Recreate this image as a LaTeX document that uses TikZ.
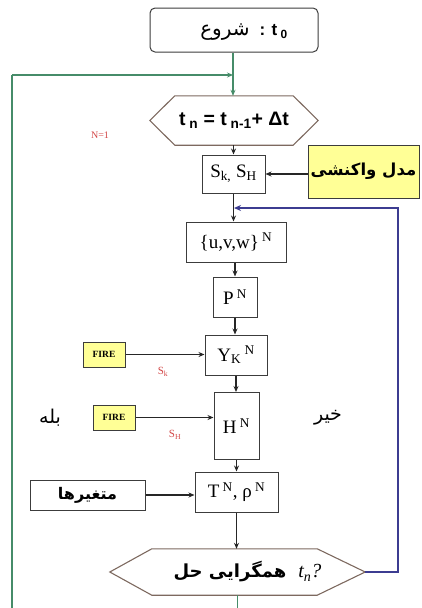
\documentclass[tikz,border=0pt]{standalone}
\usepackage{fontspec}
\setmainfont{Liberation Serif}
\newfontfamily\arabicfont[Script=Arabic]{DejaVu Sans}
\newfontfamily\sansf{Liberation Sans}
\TeXXeTstate=1
\usetikzlibrary{calc,arrows.meta}
\definecolor{greencol}{RGB}{70,140,105}
\definecolor{bluecol}{RGB}{60,60,145}
\definecolor{yfill}{RGB}{255,255,150}
\definecolor{hexcol}{RGB}{125,105,95}
\definecolor{redlab}{RGB}{210,70,70}
\definecolor{boxcol}{RGB}{60,60,60}
\begin{document}
\begin{tikzpicture}[x=1pt,y=-1pt,
  box/.style={draw=boxcol, line width=1pt, fill=white, inner sep=0pt, font=\fontsize{19}{21}\selectfont},
  ybox/.style={draw=boxcol, line width=1pt, fill=yfill, inner sep=0pt},
  hexnode/.style={inner sep=0pt},
  hexline/.style={draw=hexcol, line width=1.1pt},
  arr/.style={-{Stealth[length=6pt,width=5pt]}, line width=1.2pt, draw=black!85},
  garr/.style={-{Stealth[length=6pt,width=5pt]}, line width=1.6pt, draw=greencol},
  gline/.style={line width=1.6pt, draw=greencol},
  barr/.style={-{Stealth[length=7pt,width=6pt]}, line width=1.6pt, draw=bluecol},
  redtxt/.style={text=redlab, font=\fontsize{11}{12}\selectfont, inner sep=0pt},
  fatxt/.style={font=\arabicfont\fontsize{19}{21}\selectfont, inner sep=0pt}
]
\useasboundingbox (0,0) rectangle (422,608);

% start
\node[draw=boxcol, line width=1pt, rounded corners=5pt, minimum width=168pt, minimum height=44pt, inner sep=0pt, text depth=0pt] (start) at (234,30)
  {\hspace{20pt}{\arabicfont\fontsize{20}{22}\selectfont\beginR شروع\endR}\hspace{10pt}{\sansf\bfseries\fontsize{17}{18}\selectfont : t\textsubscript{ 0}}};

% hexagon 1
\node[hexnode, minimum width=168pt, minimum height=49pt] (hexa) at (234,120.5)
  {\sansf\bfseries\fontsize{19.5}{21}\selectfont t\textsubscript{ n} = t\textsubscript{ n-1}+ Δt};
\draw[hexline] (hexa.west) -- ([xshift=25pt]hexa.north west) -- ([xshift=-25pt]hexa.north east) -- (hexa.east)
  -- ([xshift=-25pt]hexa.south east) -- ([xshift=25pt]hexa.south west) -- cycle;

\node[redtxt, font=\fontsize{10}{11}\selectfont] (n1) at (100,135) {N=1};

% boxes
\node[box, minimum width=63pt, minimum height=38pt] (sk) at (233.5,174) {S\textsubscript{k,} S\textsubscript{H}};
\node[ybox, minimum width=111pt, minimum height=53pt] (model) at (363.5,171.5)
  {\arabicfont\bfseries\fontsize{16.5}{18}\selectfont\beginR مدل واکنشی\endR};
\node[box, minimum width=100pt, minimum height=40pt] (uvw) at (236,242) {\{u,v,w\}\textsuperscript{ N}};
\node[box, minimum width=44pt, minimum height=40pt] (p) at (235,297) {P\textsuperscript{ N}};
\node[box, minimum width=62pt, minimum height=40pt] (yk) at (236,355) {Y\textsubscript{K}\textsuperscript{ N}};
\node[box, minimum width=45pt, minimum height=67pt] (h) at (236.5,426) {H\textsuperscript{ N}};
\node[box, minimum width=83pt, minimum height=40pt] (t) at (236.5,492) {T\textsuperscript{ N}, ρ\textsuperscript{ N}};
\node[box, minimum width=115pt, minimum height=30pt] (var) at (87.5,495)
  {\arabicfont\bfseries\fontsize{16}{18}\selectfont\beginR متغیرها\endR};

\node[ybox, minimum width=42pt, minimum height=25pt, font=\bfseries\fontsize{9.5}{10}\selectfont] (f1) at (104,354.5) {FIRE};
\node[ybox, minimum width=42pt, minimum height=25pt, font=\bfseries\fontsize{9.5}{10}\selectfont] (f2) at (114,417.5) {FIRE};
\node[redtxt] (lsk) at (163,372) {S\textsubscript{k}};
\node[redtxt] (lsh) at (175,435) {S\textsubscript{H}};

\node[fatxt] (bale) at (50,418) {\beginR بله\endR};
\node[fatxt] (kheir) at (328,418) {\beginR خیر\endR};

% hexagon 2
\node[hexnode, minimum width=255pt, minimum height=46pt] (hexb) at (237.5,572)
  {\hspace{20pt}{\arabicfont\bfseries\fontsize{18}{20}\selectfont\beginR همگرایی حل\endR}\hspace{12pt}{\fontsize{20}{22}\selectfont\itshape t\textsubscript{n}?}};
\draw[hexline] (hexb.west) -- ([xshift=42pt]hexb.north west) -- ([xshift=-48pt]hexb.north east) -- (hexb.east)
  -- ([xshift=-48pt]hexb.south east) -- ([xshift=42pt]hexb.south west) -- cycle;

% coordinates
\coordinate (gtop) at (233,75);
\coordinate (gleft) at (12,75);
\coordinate (gbot) at (12,608);
\coordinate (gend) at (237.5,608);
\coordinate (bin) at (234,208);
\coordinate (bright) at (398,208);
\coordinate (bcorner) at (398,572);

% green connectors
\draw[gline] (start.south -| gtop) -- (gtop);
\draw[garr] (gtop) -- (gtop |- hexa.north);
\draw[gline] (gbot) -- (gleft);
\draw[garr] (gleft) -- (gtop);
\draw[gline] (hexb.south) -- (gend);

% black connectors
\draw[arr] (hexa.south -| sk) -- (sk.north);
\draw[arr] (sk.east -| model.west) -- (sk.east);
\draw[arr] (sk.south) -- (sk.south |- uvw.north);
\draw[arr] (uvw.south -| p) -- (p.north);
\draw[arr] (p.south) -- (p.south |- yk.north);
\draw[arr] (yk.south) -- (yk.south |- h.north);
\draw[arr] (h.south) -- (h.south |- t.north);
\draw[arr] (t.south) -- (t.south |- hexb.north);
\draw[arr] (f1.east) -- (f1.east -| yk.west);
\draw[arr] (f2.east) -- (f2.east -| h.west);
\draw[arr, line width=1.6pt] (var.east) -- (var.east -| t.west);

% blue loop
\draw[barr] (hexb.east) -- (bcorner) -- (bright) -- (bin);
\end{tikzpicture}
\end{document}
